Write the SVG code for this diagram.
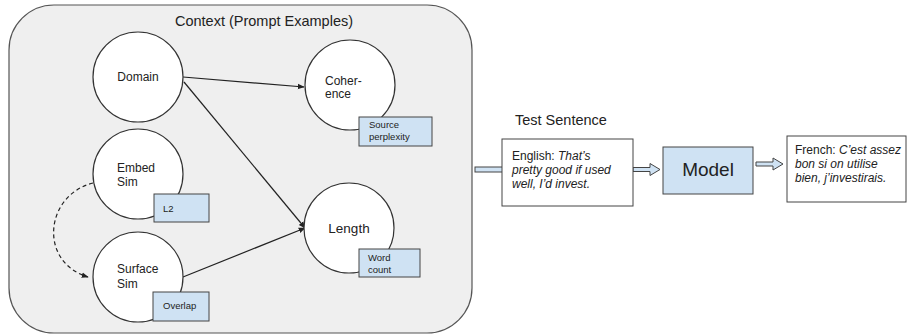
<svg xmlns="http://www.w3.org/2000/svg" width="908" height="336" viewBox="0 0 908 336">
<style>
text{font-family:"Liberation Sans",Arial,sans-serif;fill:#222}
.node{fill:#fff;stroke:#333;stroke-width:1.2}
.tag{fill:#cfe2f3;stroke:#444;stroke-width:1}
.tagt{font-size:9.5px}
.nt{font-size:12px}
.edge{stroke:#222;stroke-width:1.2;fill:none}
.blk{fill:#cfe2f3;stroke:#444;stroke-width:1}
.box{fill:#fff;stroke:#444;stroke-width:1}
.bt{font-size:12px}
</style>
<defs>
<marker id="ah" viewBox="0 0 10 10" refX="9" refY="5" markerWidth="7" markerHeight="7" orient="auto" markerUnits="userSpaceOnUse">
<path d="M0,1 L10,5 L0,9 z" fill="#222"/>
</marker>
</defs>
<g id="context">
<rect x="9" y="5" width="463" height="328" rx="45" ry="45" fill="#efefef" stroke="#555" stroke-width="1.2"/>
<text x="264" y="26" font-size="14.5" text-anchor="middle">Context (Prompt Examples)</text>
</g>
<g id="connectors">
<line class="edge" x1="183" y1="77" x2="304" y2="87" marker-end="url(#ah)"/>
<line class="edge" x1="184" y1="82" x2="305" y2="228" marker-end="url(#ah)"/>
<line class="edge" x1="183" y1="277" x2="305" y2="228" marker-end="url(#ah)"/>
<path class="edge" d="M93,183 C45,195 38,262 88,277" stroke-dasharray="4,3" marker-end="url(#ah)"/>
</g>
<g id="domain">
<circle class="node" cx="138" cy="77" r="45"/>
<text class="nt" x="138" y="81" text-anchor="middle">Domain</text>
</g>
<g id="coherence">
<circle class="node" cx="350" cy="85" r="45"/>
<text class="nt" x="325" y="85">Coher-</text>
<text class="nt" x="325" y="98">ence</text>
<rect class="tag" x="359" y="117" width="73" height="29"/>
<text class="tagt" x="369" y="128">Source</text>
<text class="tagt" x="369" y="140">perplexity</text>
</g>
<g id="embed">
<circle class="node" cx="138" cy="174" r="45"/>
<text class="nt" x="117" y="172">Embed</text>
<text class="nt" x="117" y="186">Sim</text>
<rect class="tag" x="154" y="194" width="55" height="28"/>
<text class="tagt" x="163" y="212">L2</text>
</g>
<g id="surface">
<circle class="node" cx="138" cy="277" r="45"/>
<text class="nt" x="117" y="273">Surface</text>
<text class="nt" x="117" y="288">Sim</text>
<rect class="tag" x="153" y="292" width="56" height="29"/>
<text class="tagt" x="163" y="309">Overlap</text>
</g>
<g id="length">
<circle class="node" cx="349" cy="228" r="45"/>
<text x="349" y="233" font-size="13.5" text-anchor="middle">Length</text>
<rect class="tag" x="359" y="249" width="61" height="28"/>
<text class="tagt" x="368" y="261">Word</text>
<text class="tagt" x="368" y="273">count</text>
</g>
<g id="arrows">
<rect class="blk" x="475" y="167" width="30" height="5"/>
<polygon class="blk" points="633,167.5 650,167.5 650,163.5 660,169.5 650,175.5 650,171.5 633,171.5"/>
<polygon class="blk" points="756,162 773,162 773,158 783,164 773,170 773,166 756,166"/>
</g>
<g id="test-sentence">
<text x="515" y="125" font-size="14.5">Test Sentence</text>
<rect class="box" x="502" y="139" width="131" height="67"/>
<text class="bt" x="512" y="160">English: <tspan font-style="italic">That’s</tspan></text>
<text class="bt" x="512" y="174" font-style="italic">pretty good if used</text>
<text class="bt" x="512" y="188" font-style="italic">well, I’d invest.</text>
</g>
<g id="model">
<rect x="663" y="147" width="90" height="47" fill="#cfe2f3" stroke="#444" stroke-width="1"/>
<text x="708" y="176" font-size="19" text-anchor="middle">Model</text>
</g>
<g id="output">
<rect class="box" x="787" y="136" width="119" height="66"/>
<text class="bt" x="795" y="154">French: <tspan font-style="italic">C’est assez</tspan></text>
<text class="bt" x="795" y="168" font-style="italic">bon si on utilise</text>
<text class="bt" x="795" y="182" font-style="italic">bien, j’investirais.</text>
</g>
</svg>
